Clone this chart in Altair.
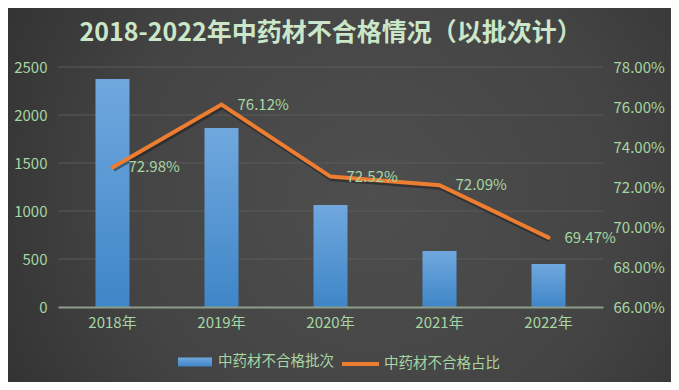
import altair as alt
import pandas as pd

years = ["2018年", "2019年", "2020年", "2021年", "2022年"]
batches = [2375, 1865, 1062, 583, 448]
rates = [0.7298, 0.7612, 0.7252, 0.7209, 0.6947]
left_ticks = [0, 500, 1000, 1500, 2000, 2500]
right_ticks = [0.66, 0.68, 0.70, 0.72, 0.74, 0.76, 0.78]
bar_name = "中药材不合格批次"
line_name = "中药材不合格占比"
title_text = "2018-2022年中药材不合格情况（以批次计）"

df = pd.DataFrame({"year": years, "batches": batches, "rate": rates,
                   "bar": bar_name, "line": line_name})
grid_df = pd.DataFrame({"batches": left_ticks[1:]})

FONT = "Noto Sans CJK SC"
GREEN = "#a6d6a2"
W, H = 545, 240
PL, PT, PR, PB = 50, 59, 68, 75

xenc = alt.X("year:N", sort=years,
             scale=alt.Scale(paddingInner=0, paddingOuter=0),
             axis=alt.Axis(title=None, labelAngle=0, domainColor="#8c9e8a", domainWidth=2,
                           ticks=False, labelColor=GREEN, labelFontSize=15, labelFont=FONT,
                           labelPadding=8, zindex=1))

ls = alt.Scale(domain=[0, 2500], nice=False)
rs = alt.Scale(domain=[0.66, 0.78], nice=False)
left_axis = alt.Axis(title=None, values=left_ticks, format="d", grid=False, domain=False,
                     ticks=False, labelPadding=11, labelColor=GREEN, labelFontSize=15,
                     labelFont=FONT, zindex=1)
right_axis = alt.Axis(title=None, orient="right", format=".2%", values=right_ticks,
                      grid=False, domain=False, ticks=False, labelPadding=10,
                      labelColor=GREEN, labelFontSize=15, labelFont=FONT, zindex=1)

bg = alt.Chart(pd.DataFrame({"a": [0]})).mark_rect(
    color=alt.RadialGradient(gradient="radial", x1=0.55, y1=0.5, r1=0, x2=0.55, y2=0.5, r2=0.75,
                             stops=[alt.GradientStop(color="#4e4e4e", offset=0),
                                    alt.GradientStop(color="#444444", offset=0.5),
                                    alt.GradientStop(color="#2a2a2a", offset=1)])
).encode(x=alt.value(-PL), x2=alt.value(W + PR), y=alt.value(-PT), y2=alt.value(H + PB))

grid = alt.Chart(grid_df).mark_rule(color="#5a5a5a", strokeWidth=1).encode(
    y=alt.Y("batches:Q", scale=ls, axis=left_axis))

bar_grad = alt.LinearGradient(gradient="linear", x1=0, x2=0, y1=1, y2=0,
                              stops=[alt.GradientStop(color="#3f86c8", offset=0),
                                     alt.GradientStop(color="#70a8de", offset=1)])

bars = alt.Chart(df).mark_bar(width=34, color=bar_grad).encode(
    x=xenc,
    y=alt.Y("batches:Q", scale=ls, axis=left_axis),
    opacity=alt.Opacity("bar:N", scale=alt.Scale(range=[1]),
                        legend=alt.Legend(title=None, orient="none", legendX=120, legendY=278,
                                          symbolType="M-1,-0.265H1V0.265H-1Z", symbolSize=1156,
                                          symbolFillColor="#5b9bd5", symbolStrokeWidth=0,
                                          labelOffset=6, labelColor=GREEN, labelFontSize=14.5,
                                          labelFont=FONT, padding=0))
)

left = alt.layer(grid, bars)

shadow = alt.Chart(df).mark_line(color="#151515", opacity=0.45, strokeWidth=5,
                                 xOffset=1, yOffset=2).encode(
    x=xenc, y=alt.Y("rate:Q", scale=rs, axis=right_axis))

line = alt.Chart(df).mark_line(strokeWidth=4, strokeCap="round").encode(
    x=xenc,
    y=alt.Y("rate:Q", scale=rs, axis=right_axis),
    color=alt.Color("line:N", scale=alt.Scale(range=["#ed7d31"]),
                    legend=alt.Legend(title=None, orient="none", legendX=282, legendY=276.5,
                                      symbolType="M-1,0H1", symbolSize=1369, symbolStrokeWidth=4,
                                      labelOffset=3, labelColor=GREEN, labelFontSize=14.5,
                                      labelFont=FONT, padding=0))
)

labels = alt.Chart(df).mark_text(align="left", baseline="middle", dx=16, fontSize=15,
                                 font=FONT, color=GREEN).encode(
    x=xenc, y=alt.Y("rate:Q", scale=rs, axis=right_axis),
    text=alt.Text("rate:Q", format=".2%"))

right = alt.layer(shadow, line, labels)

chart = alt.layer(bg, left, right).resolve_scale(y="independent", color="independent",
                                                opacity="independent").properties(
    width=W, height=H,
    autosize=alt.AutoSizeParams(type="none"),
    padding={"left": PL, "top": PT, "right": PR, "bottom": PB},
    title=alt.Title(title_text, fontSize=25, fontWeight="bold", color="#cbe6c8", font=FONT,
                    anchor="middle", frame="group", baseline="bottom", offset=-63),
).configure(background="#3c3c3c").configure_view(stroke=None)

chart.save("out.html", embed_options={"renderer": "svg", "actions": False})
